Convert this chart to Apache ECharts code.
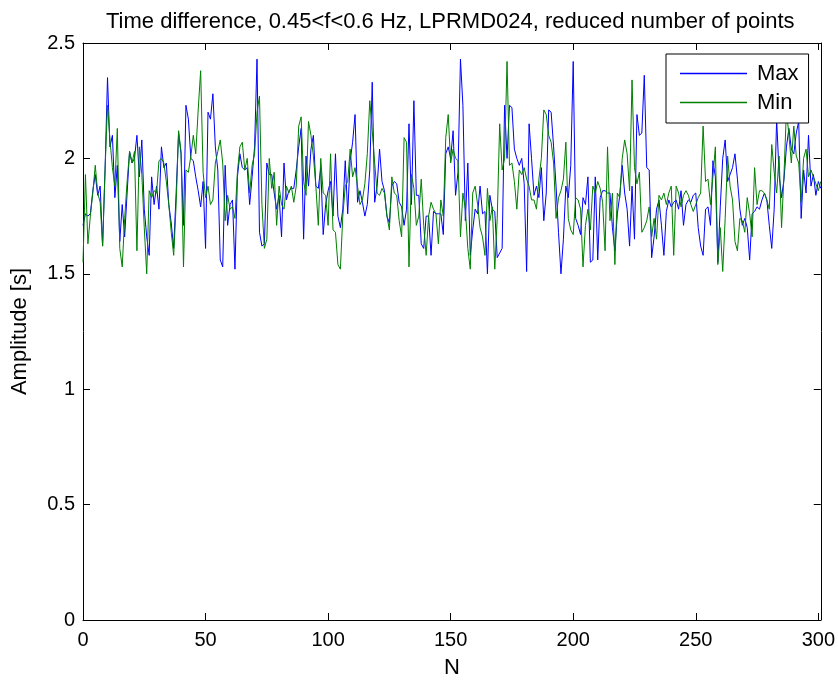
<!DOCTYPE html>
<html>
<head>
<meta charset="utf-8">
<script src="https://cdn.jsdelivr.net/npm/echarts@6/dist/echarts.min.js"></script>
<style>
html,body{margin:0;padding:0;background:#fff;}
#chart{width:838px;height:684px;}
</style>
</head>
<body>
<div id="chart"></div>
<script>
const titleText = 'Time difference, 0.45<f<0.6 Hz, LPRMD024, reduced number of points';
const xName = 'N';
const yName = 'Amplitude [s]';
const seriesNames = ['Max', 'Min'];

const maxValues = [
1.71,1.76,1.75,1.76,1.86,1.93,1.84,1.88,1.62,1.95,
2.35,2.05,2.10,1.83,1.97,1.64,1.80,1.66,1.85,2.03,
1.98,2.00,2.10,1.92,2.08,1.78,1.66,1.58,1.92,1.80,
1.88,1.78,2.05,1.96,1.98,1.80,1.72,1.61,1.85,2.11,
2.02,1.71,2.23,2.17,2.00,1.99,1.92,1.86,1.79,1.90,
1.61,2.20,2.17,2.28,2.05,1.95,1.56,1.53,1.97,1.71,
1.80,1.82,1.52,1.92,2.02,1.96,1.95,1.96,1.80,1.92,
2.05,2.43,1.68,1.62,1.63,1.98,1.93,1.93,1.85,1.78,
1.84,1.66,1.98,1.82,1.86,1.87,1.87,1.95,2.05,2.13,
1.65,2.01,1.88,2.04,2.10,1.88,1.87,1.96,1.67,1.80,
1.86,1.90,1.75,2.02,1.75,1.70,1.78,1.99,1.76,1.99,
2.07,2.19,1.81,1.86,1.81,1.75,1.80,1.95,2.33,1.81,
1.88,2.04,1.90,1.86,1.75,1.72,1.88,1.90,1.89,1.81,
1.79,1.71,1.78,2.15,1.80,2.25,1.84,1.84,1.63,1.61,
1.75,1.75,1.58,1.77,1.76,1.76,1.76,1.67,2.02,2.05,
2.00,2.12,1.84,1.94,2.43,2.23,1.73,1.98,1.58,1.69,
1.78,1.76,1.88,1.76,1.77,1.50,1.84,1.78,1.77,1.57,
1.59,1.61,2.23,2.00,2.23,2.22,2.04,2.00,1.97,2.00,
1.89,1.51,2.15,2.00,1.84,1.88,1.83,1.96,1.73,1.85,
2.21,2.20,2.05,1.88,1.68,1.50,1.65,1.88,1.83,1.97,
2.42,1.74,1.71,1.67,1.83,1.80,1.92,1.55,1.56,1.92,
1.56,1.83,1.86,1.86,1.85,1.85,1.70,1.60,1.76,1.84,
1.97,1.85,1.78,1.62,1.88,1.65,2.19,2.10,2.11,2.36,
1.96,1.95,1.57,1.66,1.78,1.82,1.71,1.58,1.77,1.82,
1.79,1.81,1.82,1.78,1.86,1.71,1.80,1.82,1.81,1.84,
1.85,1.70,1.62,1.58,1.78,1.79,1.71,1.99,1.92,1.55,
1.79,2.00,2.08,1.90,1.93,1.96,2.02,1.91,1.78,1.71,
1.74,1.70,1.56,1.76,1.77,1.79,1.78,1.82,1.85,1.82,
1.71,1.61,1.78,2.17,1.93,1.83,1.91,2.05,2.13,2.04,
2.02,2.11,2.16,1.74,1.95,1.85,2.10,1.88,1.93,1.84,
1.90,1.87
];

const minValues = [
1.55,1.93,1.63,1.75,1.85,1.97,1.85,1.81,1.62,1.95,
2.23,2.08,1.96,1.88,2.13,1.61,1.53,1.74,1.90,2.03,
1.98,2.03,1.60,2.05,1.93,1.70,1.50,1.86,1.83,1.86,
1.85,1.99,2.00,1.98,1.90,1.80,1.68,1.58,1.80,2.12,
2.03,1.53,1.95,1.94,2.01,2.10,2.02,2.21,2.38,1.94,
1.83,1.88,1.80,1.82,1.98,2.03,2.08,1.98,1.73,1.84,
1.78,1.79,1.74,1.94,2.05,2.07,1.95,2.00,1.85,1.97,
2.02,2.20,2.27,1.80,1.61,1.65,2.00,1.87,1.94,1.71,
1.88,1.80,1.78,1.88,1.85,1.88,1.81,1.88,2.14,2.18,
1.90,1.84,2.16,2.10,2.01,1.88,1.71,2.00,1.85,1.84,
1.71,2.02,1.69,1.68,1.54,1.52,1.75,1.88,1.90,2.04,
1.92,1.96,1.88,1.80,1.82,1.89,2.02,2.25,2.12,1.98,
1.85,1.84,1.87,1.85,1.75,1.69,1.92,1.85,1.84,1.73,
1.66,2.09,2.07,1.53,1.93,1.87,1.71,1.75,1.91,1.71,
1.58,1.75,1.81,1.78,1.76,1.63,1.82,1.75,2.09,2.19,
1.98,2.04,2.00,1.99,1.66,1.85,1.78,1.61,1.52,1.85,
1.88,1.80,1.70,1.66,1.58,1.87,1.73,1.79,1.52,1.74,
2.15,1.95,2.00,2.42,1.97,1.98,1.90,1.78,1.95,1.93,
1.96,1.91,1.88,1.82,1.82,1.78,1.91,2.00,2.21,2.19,
2.10,2.07,1.98,1.74,1.83,1.86,1.91,2.07,1.74,1.69,
1.67,1.83,1.82,1.78,1.53,1.71,1.78,1.69,1.88,1.85,
1.90,1.87,1.81,1.60,2.05,1.73,1.85,1.54,1.85,1.83,
2.00,2.08,2.02,1.86,2.34,1.96,1.89,1.94,1.68,1.70,
1.73,1.79,1.66,1.74,1.65,1.84,1.82,1.85,1.80,1.85,
1.88,1.58,1.88,1.85,1.79,1.84,1.86,1.84,1.80,1.77,
1.80,1.83,1.85,2.14,1.90,1.91,1.80,1.92,2.05,1.54,
1.70,1.51,1.74,2.01,1.88,1.82,1.64,1.60,1.74,1.73,
1.68,1.83,1.76,1.66,1.96,1.80,1.86,1.86,1.85,1.82,
1.78,2.06,1.94,1.85,2.01,1.70,1.93,2.21,2.10,1.98,
2.14,2.01,1.98,1.81,2.00,2.04,1.92,1.95,1.92,1.89,
1.86,1.90
];

const xMin = 0, xMax = 301, xStep = 50;
const yMin = 0, yMax = 2.5, yStep = 0.5;

const FONT = '"Liberation Sans", Arial, Helvetica, sans-serif';

function toPairs(arr){ return arr.map((v,i)=>[i,v]); }

const chart = echarts.init(document.getElementById('chart'), null, {renderer:'canvas'});

const axisLineStyle = {color:'#000', width:1};
const baseX = {
  type:'value', min:xMin, max:xMax, interval:xStep,
  axisLine:{show:true, onZero:false, lineStyle:axisLineStyle},
  axisTick:{show:true, inside:true, length:7, lineStyle:{color:'#000'}},
  splitLine:{show:false}
};
const baseY = {
  type:'value', min:yMin, max:yMax, interval:yStep,
  axisLine:{show:true, onZero:false, lineStyle:axisLineStyle},
  axisTick:{show:true, inside:true, length:7, lineStyle:{color:'#000'}},
  splitLine:{show:false}
};

chart.setOption({
  animation:false,
  backgroundColor:'#fff',
  title:{
    text:titleText, left:101, top:6,
    textStyle:{fontFamily:FONT, fontSize:22, fontWeight:'normal', color:'#000'}
  },
  grid:{left:83, right:14, top:43, bottom:56, containLabel:false},
  legend:{
    orient:'vertical', left:666, top:54,
    data:seriesNames.map(n=>({name:n, icon:'rect'})),
    itemWidth:67, itemHeight:1.5, itemGap:0,
    padding:[5,10,6,14],
    backgroundColor:'#fff', borderColor:'#000', borderWidth:1,
    textStyle:{fontFamily:FONT, fontSize:22, color:'#000', lineHeight:29, padding:[0,0,0,5]},
    selectedMode:false
  },
  xAxis:[
    Object.assign({}, baseX, {
      position:'bottom',
      name:xName, nameLocation:'middle', nameGap:37,
      nameTextStyle:{fontFamily:FONT, fontSize:22, color:'#000'},
      axisLabel:{show:true, fontFamily:FONT, fontSize:20, color:'#000', margin:10, showMaxLabel:false}
    }),
    Object.assign({}, baseX, {position:'top', axisLabel:{show:false}})
  ],
  yAxis:[
    Object.assign({}, baseY, {
      position:'left',
      name:yName, nameLocation:'middle', nameGap:52,
      nameTextStyle:{fontFamily:FONT, fontSize:22, color:'#000'},
      axisLabel:{show:true, fontFamily:FONT, fontSize:20, color:'#000', margin:8}
    }),
    Object.assign({}, baseY, {position:'right', axisLabel:{show:false}})
  ],
  series:[
    {name:seriesNames[0], type:'line', data:toPairs(maxValues), showSymbol:false,
     lineStyle:{color:'#0000ff', width:1}, itemStyle:{color:'#0000ff'}, z:2},
    {name:seriesNames[1], type:'line', data:toPairs(minValues), showSymbol:false,
     lineStyle:{color:'#008000', width:1}, itemStyle:{color:'#008000'}, z:3}
  ]
});
</script>
</body>
</html>
